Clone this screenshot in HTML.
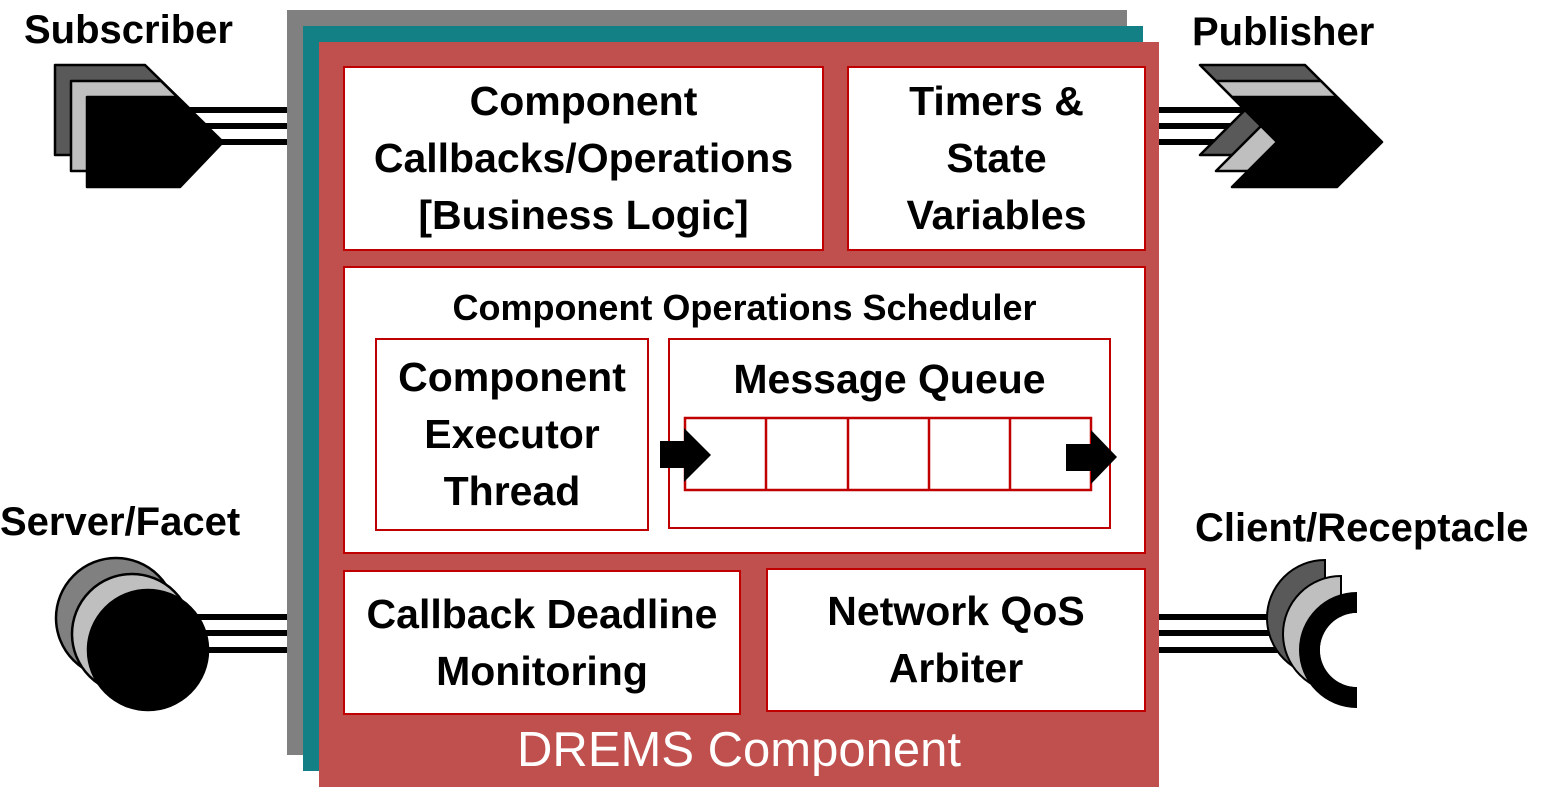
<!DOCTYPE html>
<html><head><meta charset="utf-8"><style>
body{margin:0;width:1552px;height:795px;background:#fff;position:relative;overflow:hidden;font-family:"Liberation Sans",sans-serif;}
.a{position:absolute;box-sizing:border-box}
.bx{position:absolute;box-sizing:border-box;background:#fff;border:2.5px solid #c00000;display:flex;align-items:center;justify-content:center;text-align:center;font-weight:bold;font-size:41px;line-height:57px;color:#000;white-space:nowrap}
.lab{position:absolute;font-weight:bold;font-size:40px;color:#000;white-space:nowrap}
</style></head><body>
<svg class="a" style="left:0;top:0" width="1552" height="795">
<g fill="#000">
<rect x="190" y="107" width="97" height="6"/><rect x="190" y="123" width="113" height="6"/><rect x="190" y="139" width="97" height="6"/>
<rect x="190" y="614" width="97" height="6"/><rect x="190" y="630" width="97" height="6"/><rect x="190" y="647" width="97" height="6"/>
<rect x="1159" y="107" width="95" height="6"/><rect x="1159" y="123" width="95" height="6"/><rect x="1159" y="139" width="95" height="6"/>
<rect x="1159" y="614" width="140" height="6"/><rect x="1159" y="630" width="140" height="6"/><rect x="1159" y="647" width="140" height="6"/>
</g>
<rect x="287" y="10" width="840" height="745" fill="#808080"/>
<rect x="303" y="26" width="840" height="745" fill="#138086"/>
<rect x="319" y="42" width="840" height="745" fill="#c0504d"/>
<g stroke="#000" stroke-width="2.5" stroke-linejoin="round">
<polygon points="55,65 145,65 191,110 148,155 55,155" fill="#595959"/>
<polygon points="71,81 161,81 207,126 164,171 71,171" fill="#bfbfbf"/>
<polygon points="87,97 177,97 223,142 180,187 87,187" fill="#000"/>
</g>
<g stroke="#000" stroke-width="2.5" stroke-linejoin="round">
<polygon points="1200,65 1305,65 1350,110 1305,155 1200,155 1245,110" fill="#595959"/>
<polygon points="1216,81 1321,81 1366,126 1321,171 1216,171 1261,126" fill="#bfbfbf"/>
<polygon points="1232,97 1337,97 1382,142 1337,187 1232,187 1277,142" fill="#000"/>
</g>
<g stroke="#000" stroke-width="2.5">
<circle cx="116" cy="618" r="60" fill="#808080"/>
<circle cx="132" cy="634" r="60" fill="#bfbfbf"/>
<circle cx="148" cy="650" r="60" fill="#000"/>
</g>
<g stroke="#000" stroke-width="2">
<path d="M1325,560 A58,58 0 0 0 1325,676 Z" fill="#595959"/>
<path d="M1341,576 A58,58 0 0 0 1341,692 Z" fill="#bfbfbf"/>
</g>
<path d="M1357,592 A58,58 0 0 0 1357,708 L1357,687 A37,37 0 0 1 1357,613 Z" fill="#000"/>
<path d="M1357,613 A37,37 0 0 0 1357,687 Z" fill="#fff"/>
</svg>
<div class="lab" style="left:24px;top:8px">Subscriber</div>
<div class="lab" style="left:1192px;top:10px">Publisher</div>
<div class="lab" style="left:0px;top:500px">Server/Facet</div>
<div class="lab" style="left:1195px;top:506px">Client/Receptacle</div>

<div class="bx" style="left:343px;top:66px;width:481px;height:185px">Component<br>Callbacks/Operations<br>[Business Logic]</div>
<div class="bx" style="left:847px;top:66px;width:299px;height:185px">Timers &amp;<br>State<br>Variables</div>
<div class="bx" style="left:343px;top:266px;width:803px;height:288px;align-items:flex-start;font-size:36px;line-height:40px;padding-top:20px">Component Operations Scheduler</div>
<div class="bx" style="left:375px;top:338px;width:274px;height:193px">Component<br>Executor<br>Thread</div>
<div class="bx" style="left:668px;top:338px;width:443px;height:191px;align-items:flex-start;padding-top:14px;line-height:50px">Message Queue</div>
<svg class="a" style="left:0;top:0" width="1552" height="795">
<g fill="none" stroke="#c00000" stroke-width="2.5">
<rect x="685" y="418" width="406" height="72"/>
<line x1="766" y1="418" x2="766" y2="490"/><line x1="848" y1="418" x2="848" y2="490"/>
<line x1="929" y1="418" x2="929" y2="490"/><line x1="1010" y1="418" x2="1010" y2="490"/>
</g>
<polygon points="660,441 684,441 684,428 711,455 684,482 684,468 660,468" fill="#000"/>
<polygon points="1066,444 1091,444 1091,430 1117,457 1091,484 1091,471 1066,471" fill="#000"/>
</svg>
<div class="bx" style="left:343px;top:570px;width:398px;height:145px">Callback Deadline<br>Monitoring</div>
<div class="bx" style="left:766px;top:568px;width:380px;height:144px">Network QoS<br>Arbiter</div>
<div class="a" style="left:319px;top:722px;width:840px;text-align:center;color:#fff;font-size:49px;line-height:56px">DREMS Component</div>
</body></html>
